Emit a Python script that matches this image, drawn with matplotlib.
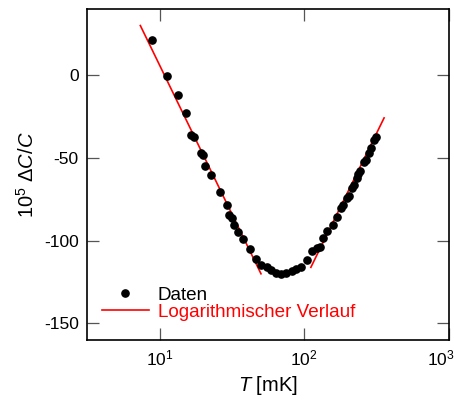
import matplotlib
matplotlib.use("Agg")
import matplotlib.pyplot as plt
import matplotlib.transforms as mtrans
import numpy as np

plt.rcParams['font.family'] = ['Liberation Sans', 'DejaVu Sans']
plt.rcParams['mathtext.fontset'] = 'custom'
plt.rcParams['mathtext.rm'] = 'Liberation Sans'
plt.rcParams['mathtext.it'] = 'Liberation Sans:italic'
plt.rcParams['axes.unicode_minus'] = False

# Messdaten (T in mK, 10^5 dC/C)
T_mK = [8.91, 11.30, 13.46, 15.28, 16.49, 17.16, 19.19, 19.89, 20.76, 22.84,
        26.22, 29.31, 30.40, 31.70, 32.89, 34.77, 37.54, 42.22, 46.06, 50.12,
        54.95, 58.9, 63.8, 69.1, 74.8, 82.3, 87.6, 95.3, 104.0, 113.0,
        121.6, 128.9, 133.6, 143.5, 156.8, 167.0, 178.0, 183.7, 196.8, 202.1,
        213.3, 220.2, 229.6, 236.9, 244.5, 260.5, 266.4, 280.7, 289.6, 302.5,
        312.3]
dC_C = [21.2, -0.4, -11.7, -22.7, -35.9, -37.5, -46.9, -48.4, -54.8, -60.5,
        -70.5, -78.6, -84.2, -86.2, -90.3, -94.8, -98.9, -105.0, -110.9, -114.8,
        -115.7, -117.7, -119.5, -120.3, -119.3, -118.1, -117.3, -116.1, -111.6, -106.4,
        -104.7, -103.7, -98.6, -93.9, -90.7, -85.4, -80.2, -78.2, -74.1, -72.7,
        -68.1, -66.1, -62.0, -59.6, -57.6, -52.6, -51.1, -47.2, -43.9, -39.1,
        -37.1]

# logarithmische Fits (Endpunkte)
fit_lo_T = [7.36, 50.2]
fit_lo_y = [30.0, -120.0]
fit_hi_T = [111.0, 356.0]
fit_hi_y = [-116.1, -25.8]

fig = plt.figure(figsize=(4.54, 4.00), dpi=100)
ax = fig.add_axes([87/454, 60/400, 362/454, 331/400])

ax.plot(T_mK, dC_C, 'o', color='black', markersize=5.2, label='Daten', zorder=3)
ax.plot(fit_lo_T, fit_lo_y, '-', color='red', lw=1.2, label='Logarithmischer Verlauf')
ax.plot(fit_hi_T, fit_hi_y, '-', color='red', lw=1.2)

ax.set_xscale('log')
ax.set_xlim(3.15, 1000)
ax.set_ylim(-160, 40)
ax.set_xticks([10, 100, 1000])
ax.xaxis.set_minor_locator(matplotlib.ticker.NullLocator())
ax.set_yticks([0, -50, -100, -150])

ax.tick_params(direction='in', length=8.5, width=0.9, color='#555555',
               top=True, right=True, labelsize=12.5, pad=6)
for s in ax.spines.values():
    s.set_linewidth(1.2)

# 10^3 label sits a bit inside, like the original
lab = ax.get_xticklabels()[2]
lab.set_transform(lab.get_transform() + mtrans.ScaledTranslation(-8/100, 0, fig.dpi_scale_trans))

ax.set_xlabel(r'$\mathit{T}$ [mK]', fontsize=14.5)
ax.set_ylabel(r'10$^5$ $\Delta\mathit{C}/\mathit{C}$', fontsize=14.5)

leg = ax.legend(loc='lower left', frameon=False, fontsize=13.6,
                handlelength=2.5, handletextpad=0.45, labelspacing=0.0,
                bbox_to_anchor=(-0.006, 0.006))
leg.get_texts()[1].set_color('red')

fig.savefig('out.png', dpi=100)
